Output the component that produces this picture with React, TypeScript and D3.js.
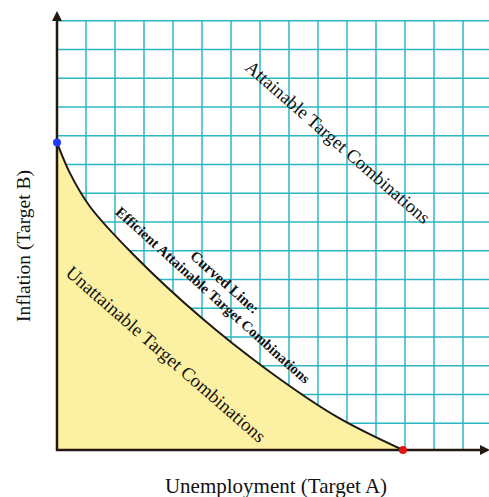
import React from "react";
import * as d3 from "d3";

// Frontier curve (grid units: x = unemployment, y = inflation)
const curveX = [0, 0.45, 1.14, 2.63, 4.93, 7.23, 9.64, 11.93];
const curveY = [10.69, 9.62, 8.46, 6.8, 4.64, 2.8, 1.16, 0];

const gridXCount = 15;
const gridYCount = 15;
const xMax = 14.9;
const yMax = 14.93;

const labels = {
  x: "Unemployment (Target A)",
  y: "Inflation (Target B)",
  attainable: "Attainable Target Combinations",
  unattainable: "Unattainable Target Combinations",
  curved: "Curved Line:",
  efficient: "Efficient Attainable Target Combinations",
};

const W = 489;
const H = 497;
const left = 57;
const bottom = 450;
const top = 20.7;

export default function App() {
  const x = d3.scaleLinear().domain([0, xMax]).range([left, left + xMax * 29]);
  const y = d3.scaleLinear().domain([0, yMax]).range([bottom, top]);
  const pts: [number, number][] = curveX.map((v, i) => [v, curveY[i]]);
  const line = d3.line<[number, number]>().x(d => x(d[0])).y(d => y(d[1])).curve(d3.curveCatmullRom);
  const area = d3.area<[number, number]>().x(d => x(d[0])).y0(y(0)).y1(d => y(d[1])).curve(d3.curveCatmullRom);
  const gx = d3.range(1, gridXCount);
  const gy = d3.range(0, gridYCount).map(k => yMax - k);
  const grid = "#2bb7c2";
  const axis = "#22180f";
  const serif = "'Liberation Serif', 'Times New Roman', serif";
  const rot = (cx: number, cy: number, a: number) => `translate(${cx},${cy}) rotate(${a})`;
  return (
    <svg width={W} height={H} style={{ position: "absolute", left: 0, top: 0, background: "#fff" }} fontFamily={serif}>
      <rect width={W} height={H} fill="#fff" />
      {gx.map(k => (
        <line key={"gx" + k} x1={x(k)} x2={x(k)} y1={top} y2={bottom} stroke={grid} strokeWidth={1.5} />
      ))}
      {gy.map(v => (
        <line key={"gy" + v} x1={left} x2={W} y1={y(v)} y2={y(v)} stroke={grid} strokeWidth={1.5} />
      ))}
      <path d={area(pts) || ""} fill="#fcf0a2" />
      <path d={line(pts) || ""} fill="none" stroke="#1f1a14" strokeWidth={2} />
      {/* axes */}
      <line x1={left} x2={left} y1={bottom + 1} y2={18} stroke={axis} strokeWidth={2.5} />
      <path d={`M${left},11 L${left - 5},21 L${left + 5},21 Z`} fill={axis} />
      <line x1={left - 1} x2={482} y1={bottom} y2={bottom} stroke={axis} strokeWidth={2.5} />
      <path d={`M490,${bottom} L480,${bottom - 5} L480,${bottom + 5} Z`} fill={axis} />
      <circle cx={x(0)} cy={y(curveY[0])} r={4} fill="#1f3cff" />
      <circle cx={x(curveX[curveX.length - 1])} cy={y(0)} r={4} fill="#e01515" />
      {/* region labels */}
      <text transform={rot(338, 142, 41)} textAnchor="middle" dy="0.35em" fontSize={18.6} fill="#111">
        {labels.attainable}
      </text>
      <text transform={rot(166, 354, 41)} textAnchor="middle" dy="0.35em" fontSize={18.8} fill="#111">
        {labels.unattainable}
      </text>
      <text transform={rot(225, 282, 41.5)} textAnchor="middle" dy="0.35em" fontSize={15} fontWeight="bold" fill="#111">
        {labels.curved}
      </text>
      <text transform={rot(213, 295, 42)} textAnchor="middle" dy="0.35em" fontSize={14.5} fontWeight="bold" fill="#111">
        {labels.efficient}
      </text>
      {/* axis labels */}
      <text x={276} y={493} textAnchor="middle" fontSize={21} fill="#111">
        {labels.x}
      </text>
      <text transform={rot(23, 246, -90)} textAnchor="middle" dy="0.35em" fontSize={19.5} fill="#111">
        {labels.y}
      </text>
    </svg>
  );
}
